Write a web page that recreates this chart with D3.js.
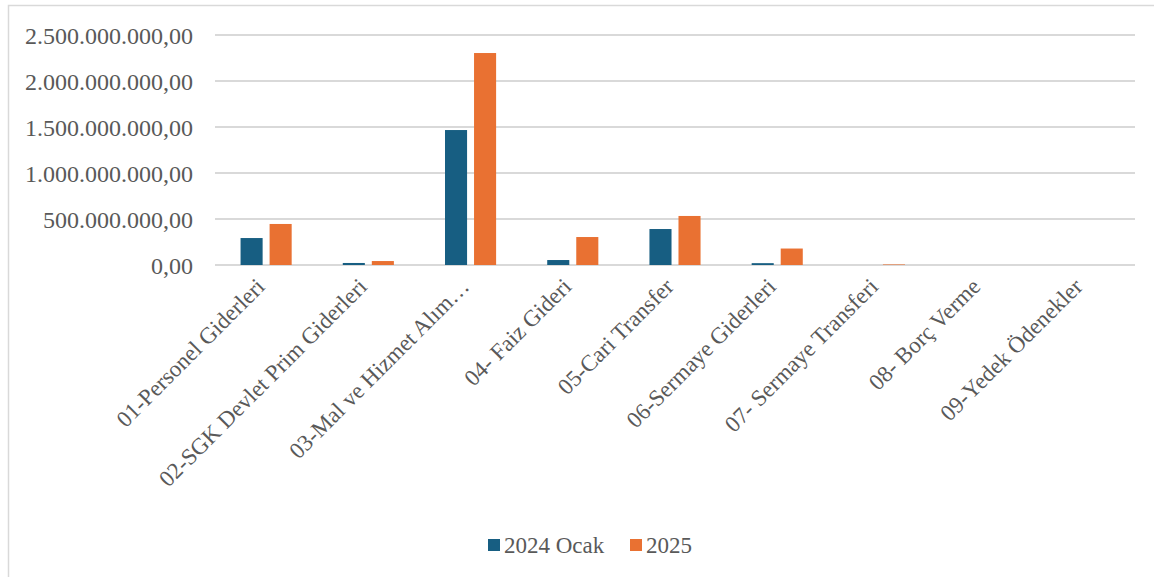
<!DOCTYPE html>
<html>
<head>
<meta charset="utf-8">
<script src="https://cdn.jsdelivr.net/npm/d3@7"></script>
<style>
  body { margin: 0; background: #fff; }
  svg { display: block; }
  text { font-family: 'Liberation Serif', 'Times New Roman', Tinos, 'DejaVu Serif', serif; }
</style>
</head>
<body>
<div id="chart"></div>
<script>
const categories = ['01-Personel Giderleri', '02-SGK Devlet Prim Giderleri', '03-Mal ve Hizmet Alım…', '04- Faiz Gideri',
  '05-Cari Transfer', '06-Sermaye Giderleri', '07- Sermaye Transferi', '08- Borç Verme', '09-Yedek Ödenekler']
const seriesNames = ['2024 Ocak', '2025']
const values2024 = [293000000, 22000000, 1467000000, 54000000, 391000000, 20000000, 0, 0, 0]
const values2025 = [446000000, 43000000, 2304000000, 304000000, 533000000, 179000000, 6000000, 0, 0]
const yTicks = [0, 500000000, 1000000000, 1500000000, 2000000000, 2500000000]
const colors = ['#175E82', '#E97132']

const width = 1154
const height = 577
const plotLeft = 215, plotRight = 1135, plotTop = 35, plotBottom = 265
const serif = "'Liberation Serif', 'Times New Roman', Tinos, 'DejaVu Serif', serif"

const svg = d3.select('#chart').append('svg')
  .attr('width', width)
  .attr('height', height)
  .attr('font-family', serif)

// outer frame
svg.append('rect')
  .attr('x', 8.5).attr('y', 5.5)
  .attr('width', width).attr('height', height)
  .attr('fill', 'none')
  .attr('stroke', '#D9D9D9')
  .attr('stroke-width', 1.5)

const x = d3.scaleBand().domain(categories).range([plotLeft, plotRight])
const xInner = d3.scaleBand().domain(seriesNames).range([0, x.bandwidth()]).paddingInner(0.24).paddingOuter(0.88)
const y = d3.scaleLinear().domain([0, 2500000000]).range([plotBottom, plotTop])

const fmt = v => d3.format(',.2f')(v).replace(/,/g, '#').replace('.', ',').replace(/#/g, '.')

// gridlines
svg.append('g').selectAll('line')
  .data(yTicks).enter().append('line')
    .attr('x1', plotLeft).attr('x2', plotRight)
    .attr('y1', d => y(d)).attr('y2', d => y(d))
    .attr('stroke', '#D9D9D9')
    .attr('stroke-width', 2)

// y labels
svg.append('g').selectAll('text')
  .data(yTicks).enter().append('text')
    .text(d => fmt(d))
    .attr('x', 193)
    .attr('y', d => y(d) + 9)
    .attr('text-anchor', 'end')
    .attr('font-size', 24)
    .attr('fill', '#595959')

// bars
const rows = categories.map((c, i) => ({ cat: c, vals: [values2024[i], values2025[i]] }))
const groups = svg.append('g').selectAll('g')
  .data(rows).enter().append('g')
    .attr('transform', d => `translate(${x(d.cat)},0)`)

groups.selectAll('rect')
  .data(d => d.vals.map((v, j) => ({ key: seriesNames[j], v: v, j: j })))
  .enter().append('rect')
    .attr('x', d => xInner(d.key))
    .attr('width', xInner.bandwidth())
    .attr('y', d => y(d.v))
    .attr('height', d => plotBottom - y(d.v))
    .attr('fill', d => colors[d.j])

// x labels
svg.append('g').selectAll('text')
  .data(categories).enter().append('text')
    .text(d => d)
    .attr('text-anchor', 'end')
    .attr('font-size', 23)
    .attr('fill', '#595959')
    .attr('transform', d => `translate(${x(d) + x.bandwidth() / 2},${288}) rotate(-45)`)

// legend
const legend = svg.append('g')
const legendX = [488, 630]
seriesNames.forEach((s, i) => {
  legend.append('rect')
    .attr('x', legendX[i]).attr('y', 539)
    .attr('width', 12).attr('height', 12)
    .attr('fill', colors[i])
  legend.append('text')
    .text(s)
    .attr('x', legendX[i] + 16).attr('y', 553)
    .attr('font-size', 23)
    .attr('fill', '#595959')
})
</script>
</body>
</html>
